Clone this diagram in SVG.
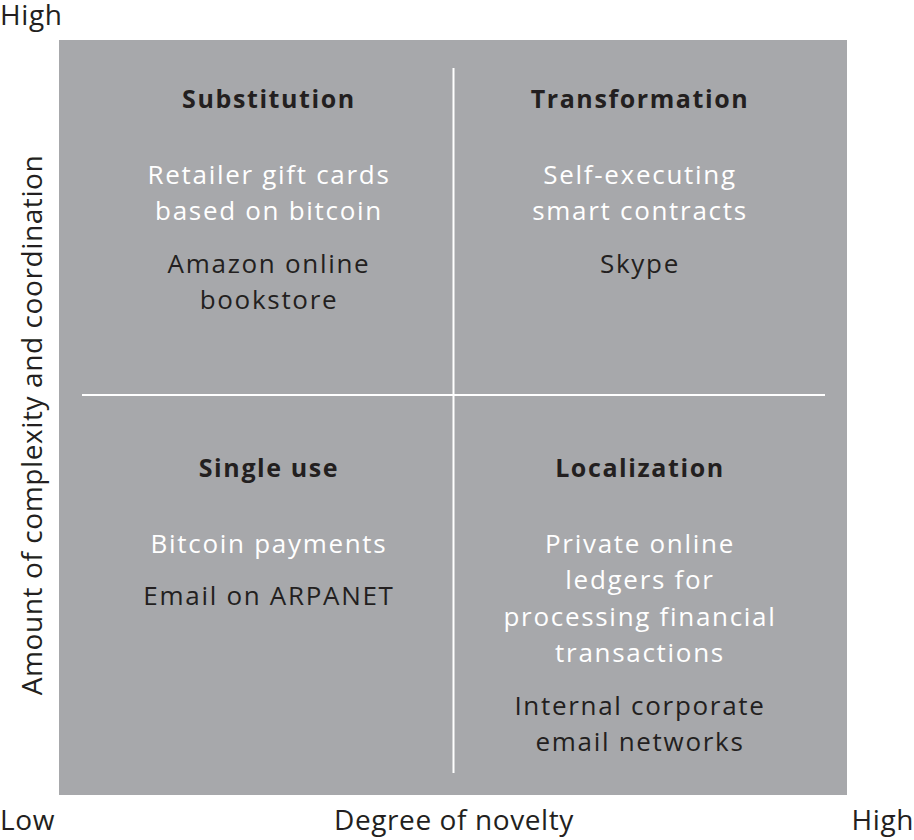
<svg xmlns="http://www.w3.org/2000/svg" width="914" height="840" viewBox="0 0 914 840">
<style>
text{font-family:"Open Sans","Liberation Sans",sans-serif;text-anchor:middle}
.h{font-weight:700;font-size:25px;fill:#231f20;letter-spacing:1.6px}
.w{font-size:26px;fill:#ffffff;letter-spacing:1.7px}
.d{font-size:26px;fill:#231f20;letter-spacing:1.7px}
.ax{font-size:28px;fill:#231f20;letter-spacing:0.6px}
</style>
<rect x="59" y="40" width="788" height="755" fill="#a7a8ab"/>
<g id="connectors" stroke="#ffffff" stroke-width="2">
<line x1="453.5" y1="68" x2="453.5" y2="773"/>
<line x1="82" y1="395" x2="825" y2="395"/>
</g>
<g id="substitution">
<text class="h" x="269" y="108">Substitution</text>
<text class="w" x="269" y="184">Retailer gift cards</text>
<text class="w" x="269" y="220">based on bitcoin</text>
<text class="d" x="269" y="273">Amazon online</text>
<text class="d" x="269" y="309">bookstore</text>
</g>
<g id="transformation">
<text class="h" x="640" y="108">Transformation</text>
<text class="w" x="640" y="184">Self-executing</text>
<text class="w" x="640" y="220">smart contracts</text>
<text class="d" x="640" y="273">Skype</text>
</g>
<g id="single-use">
<text class="h" x="269" y="477">Single use</text>
<text class="w" x="269" y="553">Bitcoin payments</text>
<text class="d" x="269" y="605">Email on ARPANET</text>
</g>
<g id="localization">
<text class="h" x="640" y="477">Localization</text>
<text class="w" x="640" y="553">Private online</text>
<text class="w" x="640" y="589">ledgers for</text>
<text class="w" x="640" y="626">processing financial</text>
<text class="w" x="640" y="662">transactions</text>
<text class="d" x="640" y="715">Internal corporate</text>
<text class="d" x="640" y="751">email networks</text>
</g>
<g id="axes">
<text class="ax" x="0" y="25" style="text-anchor:start">High</text>
<text class="ax" x="0" y="830" style="text-anchor:start">Low</text>
<text class="ax" x="454" y="830">Degree of novelty</text>
<text class="ax" x="914" y="830" style="text-anchor:end">High</text>
<text class="ax" transform="translate(42 425) rotate(-90)">Amount of complexity and coordination</text>
</g>
</svg>
